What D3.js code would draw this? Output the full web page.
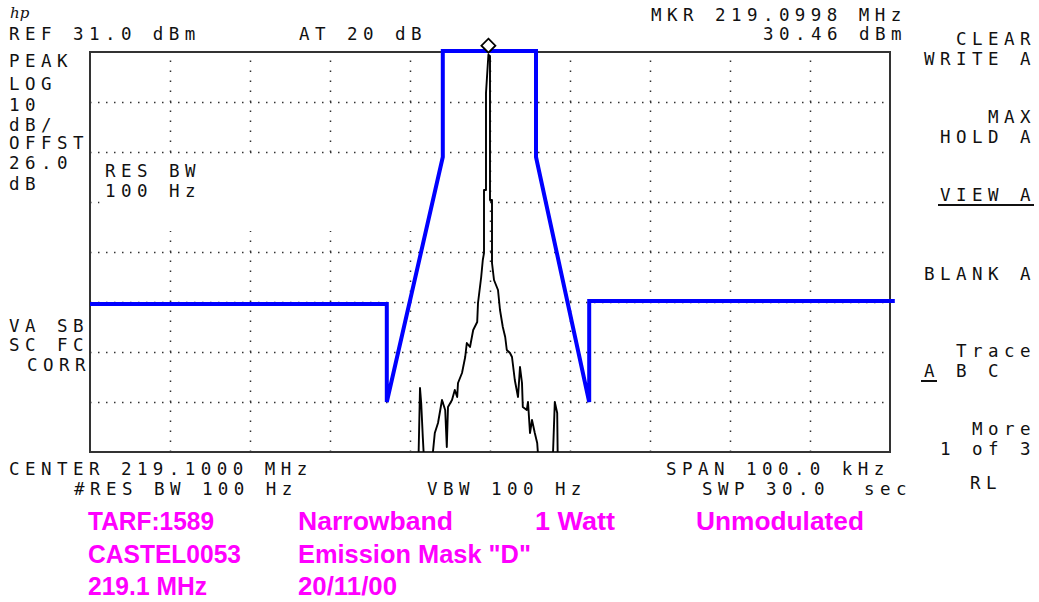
<!DOCTYPE html>
<html>
<head>
<meta charset="utf-8">
<script src="https://cdn.jsdelivr.net/npm/d3@7"></script>
<style>
  body { margin: 0; background: #fff; }
  text.hp { font-family: "DejaVu Sans Mono", "Liberation Mono", monospace; font-size: 17.5px; letter-spacing: 5.45px; fill: #111; }
  text.note { font-family: "Liberation Sans", Arial, sans-serif; font-weight: bold; font-size: 25px; fill: #ff00ff; }
</style>
</head>
<body>
<div id="chart"></div>
<script>
// trace A, offset from center frequency (kHz) and level (dBm)
var traceFreq = [-50, -9.0, -8.75, -8.6, -8.4, -8.1, -7.5, -6.9, -6.5, -6.0, -5.6, -5.4, -5.25, -4.75, -4.4, -4.1, -4.0, -3.5, -3.1, -2.9,
  -2.5, -2.1, -1.6, -1.5, -1.1, -0.9, -0.75, -0.75, -0.5, -0.5, -0.2, 0.0, 0.0, 0.25, 0.25, 0.5, 1.0, 1.25, 1.6, 1.9,
  2.1, 2.5, 2.75, 3.1, 3.5, 3.75, 4.0, 4.1, 4.6, 4.75, 5.0, 5.25, 5.6, 5.9, 6.25, 7.75, 8.1, 8.4, 8.5, 50];
var traceLevel = [-55, -55, -36.2, -39.2, -46, -55, -55, -45.2, -43.2, -38.6, -40.6, -48, -40, -38.6, -36.6, -38, -35.2, -33.2, -30, -27.2,
  -28, -24.6, -23, -19.2, -14, -10.6, -9.2, 3.4, 3.4, 22.8, 30.46, 30.2, 1.4, 1.4, -11.2, -14.6, -16.6, -20.6, -24, -26,
  -28.6, -29.2, -30, -34.6, -38, -32, -35.2, -40, -40.6, -39, -45.2, -42.6, -45.2, -47.2, -55, -55, -39, -41.2, -55, -55];

// emission mask "D"
var maskFreq = [-50, -12.9, -12.9, -5.9, -5.9, 5.75, 5.75, 12.4, 12.4, 50.6];
var maskLevel = [-19.4, -19.4, -39, 10, 31.2, 31.2, 10, -39, -18.8, -18.8];

var centerMHz = 219.1, markerFreq = -0.2, markerLevel = 30.46;
var refLevel = 31, dbPerDiv = 10, spanKHz = 100;

var freqGrid = [-40, -30, -20, -10, 0, 10, 20, 30, 40];
var levelGrid = [21, 11, 1, -9, -19, -29, -39];

var sideLabels = ["PEAK", "LOG", "10", "dB/", "OFFST", "26.0", "dB"];
var bwLabels = ["RES BW", "100 Hz"];
var corrLabels = ["VA SB", "SC FC", "CORR"];
var softkeys = ["CLEAR", "WRITE A", "MAX", "HOLD A", "VIEW A", "BLANK A", "Trace", "A  B  C", "More", "1 of 3", "RL"];
var notesCol1 = ["TARF:1589", "CASTEL0053", "219.1 MHz"];
var notesCol2 = ["Narrowband", "Emission Mask \"D\"", "20/11/00"];
var notesRow1 = ["1 Watt", "Unmodulated"];

var margin = { top: 52, left: 90 },
    width = 800,
    height = 400;

var x = d3.scaleLinear().domain([-spanKHz / 2, spanKHz / 2]).range([0, width]);
var y = d3.scaleLinear().domain([refLevel - 8 * dbPerDiv, refLevel]).range([height, 0]);

var svg = d3.select("#chart").append("svg")
    .attr("width", 1039)
    .attr("height", 602);

svg.append("rect").attr("width", 1039).attr("height", 602).attr("fill", "#fff");

var plot = svg.append("g")
    .attr("transform", "translate(" + margin.left + "," + margin.top + ")");

plot.append("defs").append("clipPath")
    .attr("id", "clip")
    .append("rect")
    .attr("width", width)
    .attr("height", height);

// dotted graticule
var vGrid = plot.append("g")
    .attr("transform", "translate(0," + height + ")")
    .call(d3.axisBottom(x).tickValues(freqGrid).tickSize(-height).tickFormat(""));
vGrid.select(".domain").remove();
vGrid.selectAll("line")
    .attr("stroke", "#333")
    .attr("stroke-width", 1.5)
    .attr("stroke-dasharray", "1.5,8.5");

var hGrid = plot.append("g")
    .call(d3.axisLeft(y).tickValues(levelGrid).tickSize(-width).tickFormat(""));
hGrid.select(".domain").remove();
hGrid.selectAll("line")
    .attr("stroke", "#333")
    .attr("stroke-width", 1.5)
    .attr("stroke-dasharray", "1.5,6.5");

// annotation blanks the graticule behind it
plot.append("rect")
    .attr("x", x(-48.8))
    .attr("y", y(10.4))
    .attr("width", x(-0.3) - x(-48.8))
    .attr("height", y(-4.8) - y(10.4))
    .attr("fill", "#fff");

// frame
plot.append("rect")
    .attr("width", width)
    .attr("height", height)
    .attr("fill", "none")
    .attr("stroke", "#333")
    .attr("stroke-width", 2);

var trace = traceFreq.map(function (f, i) { return [f, traceLevel[i]]; });
var mask = maskFreq.map(function (f, i) { return [f, maskLevel[i]]; });

var line = d3.line()
    .x(function (d) { return x(d[0]); })
    .y(function (d) { return y(d[1]); });

plot.append("path")
    .datum(trace)
    .attr("clip-path", "url(#clip)")
    .attr("fill", "none")
    .attr("stroke", "#000")
    .attr("stroke-width", 1.9)
    .attr("stroke-linejoin", "round")
    .attr("d", line);

plot.append("path")
    .datum(mask)
    .attr("fill", "none")
    .attr("stroke", "#0000ff")
    .attr("stroke-width", 4)
    .attr("d", line);

// marker diamond
var mx = x(markerFreq), my = y(markerLevel) - 9;
plot.append("path")
    .attr("d", "M" + mx + "," + (my - 7) + "L" + (mx + 7) + "," + my + "L" + mx + "," + (my + 7) + "L" + (mx - 7) + "," + my + "Z")
    .attr("fill", "#fff")
    .attr("stroke", "#000")
    .attr("stroke-width", 1.8);

// screen annotation on a character grid
var colW = 16;
function put(str, left, base) {
    return svg.append("text").attr("class", "hp").attr("x", left - 1).attr("y", base).text(str);
}
function putRight(str, right, base) {
    return put(str, right - ((str.length - 1) * colW + 10), base);
}
function underline(x1, x2, yy) {
    svg.append("line").attr("x1", x1).attr("x2", x2).attr("y1", yy).attr("y2", yy)
        .attr("stroke", "#111").attr("stroke-width", 2);
}
function note(str, left, base, w) {
    svg.append("text").attr("class", "note")
        .attr("x", left).attr("y", base)
        .attr("textLength", w)
        .attr("lengthAdjust", "spacingAndGlyphs")
        .text(str);
}

svg.append("text")
    .attr("x", 10).attr("y", 18)
    .style("font-family", "DejaVu Serif, serif")
    .style("font-style", "italic")
    .style("font-size", "15px")
    .style("fill", "#111")
    .text("hp");

put("REF " + refLevel.toFixed(1) + " dBm", 10, 40);
put("AT 20 dB", 300, 40);
putRight("MKR " + (centerMHz + markerFreq / 1000).toFixed(4) + " MHz", 902, 21);
putRight(markerLevel.toFixed(2) + " dBm", 902, 40);

var sideY = [67, 90, 111, 131, 149, 169, 190];
sideLabels.forEach(function (s, i) { put(s, 10, sideY[i]); });

bwLabels.forEach(function (s, i) { put(s, 106, 177 + i * 20); });

put(corrLabels[0], 10, 332);
put(corrLabels[1], 10, 351);
putRight(corrLabels[2], 86, 371);

put("CENTER " + centerMHz.toFixed(4) + " MHz", 10, 475);
put("#RES BW 100 Hz", 75, 495);
put("VBW 100 Hz", 428, 495);
put("SPAN " + spanKHz.toFixed(1) + " kHz", 667, 475);
put("SWP 30.0", 703, 495);
put("sec", 865, 495);

var softY = [45, 65, 123, 143, 201, 280, 357, 377, 435, 455, 489];
softkeys.forEach(function (s, i) {
    if (s === "RL") put(s, 971, softY[i]);
    else putRight(s, 1031, softY[i]);
});
underline(938, 1034, 205);
underline(921, 937, 381);

var col1W = [126, 153, 119], col2W = [155, 233, 99];
notesCol1.forEach(function (s, i) { note(s, 88, 530 + i * 32.5, col1W[i]); });
notesCol2.forEach(function (s, i) { note(s, 298, 530 + i * 32.5, col2W[i]); });
note(notesRow1[0], 535, 530, 80);
note(notesRow1[1], 696, 530, 168);
</script>
</body>
</html>
